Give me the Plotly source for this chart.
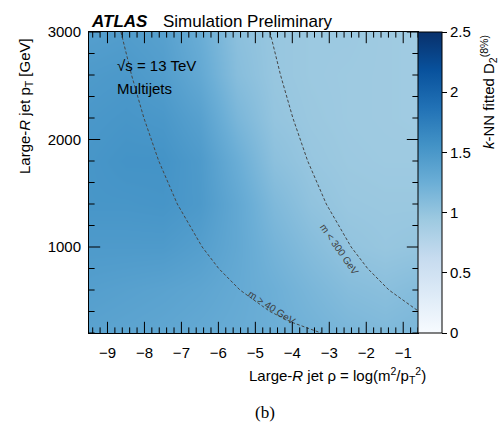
import plotly.graph_objects as go

# ---- data ----
rho_grid = [-9.5, -8.5, -7.5, -6.5, -5.5, -4.5, -3.5, -2.5, -1.5, -0.5]
pt_grid = [200, 600, 1000, 1400, 1800, 2200, 2600, 3000]
d2_values = [
    [1.38, 1.36, 1.34, 1.31, 1.28, 1.25, 1.21, 1.16, 1.13, 1.16],
    [1.42, 1.40, 1.38, 1.35, 1.30, 1.24, 1.16, 1.09, 1.06, 1.10],
    [1.47, 1.47, 1.47, 1.42, 1.32, 1.19, 1.09, 1.01, 0.98, 1.00],
    [1.52, 1.52, 1.53, 1.48, 1.32, 1.13, 1.02, 0.97, 0.96, 0.96],
    [1.52, 1.55, 1.55, 1.47, 1.26, 1.05, 0.98, 0.95, 0.94, 0.94],
    [1.50, 1.52, 1.50, 1.40, 1.16, 1.00, 0.96, 0.94, 0.93, 0.92],
    [1.47, 1.49, 1.44, 1.31, 1.08, 0.98, 0.95, 0.94, 0.93, 0.92],
    [1.42, 1.44, 1.40, 1.26, 1.05, 0.98, 0.95, 0.95, 0.93, 0.92],
]

# constant-mass lines (rho, pT)
m40_pt = [3000, 2600, 2200, 1800, 1400, 1000, 800, 600, 400, 300, 200]
m40_rho = [-8.635, -8.349, -8.015, -7.613, -7.111, -6.438, -5.991, -5.416, -4.605, -4.017, -3.219]
m300_pt = [3000, 2600, 2200, 1800, 1400, 1000, 800, 600, 400]
m300_rho = [-4.605, -4.319, -3.985, -3.584, -3.081, -2.408, -1.962, -1.386, -0.575]

x_major = [-9, -8, -7, -6, -5, -4, -3, -2, -1]
y_major = [1000, 2000, 3000]
cbar_ticks = [0, 0.5, 1, 1.5, 2, 2.5]

X_RANGE = [-9.5, -0.6]
Y_RANGE = [200, 3000]
x_minor = [round(-9.4 + 0.2 * i, 2) for i in range(45)]
x_minor = [v for v in x_minor if abs(v - round(v)) > 1e-6 and v <= X_RANGE[1] + 1e-9]
y_minor = [v for v in range(200, 3001, 200) if v % 1000 != 0]

blues = [
    [0.0, "rgb(247,251,255)"], [0.125, "rgb(222,235,247)"], [0.25, "rgb(198,219,239)"],
    [0.375, "rgb(158,202,225)"], [0.5, "rgb(107,174,214)"], [0.625, "rgb(66,146,198)"],
    [0.75, "rgb(33,113,181)"], [0.875, "rgb(8,81,156)"], [1.0, "rgb(8,48,107)"],
]

FONT = "Liberation Sans, Arial, sans-serif"
L, R, T, B = 89, 418, 32, 333


def px(x):
    return (x - L) / (R - L)


def py(y):
    return (B - y) / (B - T)


fig = go.Figure()
fig.add_trace(go.Heatmap(
    x=rho_grid, y=pt_grid, z=d2_values, zsmooth="best",
    colorscale=blues, zmin=0, zmax=2.5,
    colorbar=dict(
        x=1.0, xanchor="left", xpad=0, thickness=24, len=1, y=0.5, yanchor="middle", ypad=0,
        outlinewidth=1, outlinecolor="black",
        tickvals=cbar_ticks, ticks="outside", ticklen=5, tickcolor="black", tickwidth=1,
        tickfont=dict(size=15, color="black", family=FONT),
    ),
    showscale=True,
))
line_style = dict(color="rgb(70,70,70)", width=1, dash="3px,2px")
fig.add_trace(go.Scatter(x=m40_rho, y=m40_pt, mode="lines", line=line_style, showlegend=False, hoverinfo="skip"))
fig.add_trace(go.Scatter(x=m300_rho, y=m300_pt, mode="lines", line=line_style, showlegend=False, hoverinfo="skip"))


# tick marks drawn on top of the heatmap (clipped to the frame so only the inner half shows)
def tick_trace(xs, ys, symbol, size):
    return go.Scatter(
        x=xs, y=ys, mode="markers", cliponaxis=True, showlegend=False, hoverinfo="skip",
        marker=dict(symbol=symbol, size=size, color="black", line=dict(color="black", width=1)),
    )


for yedge in Y_RANGE:
    fig.add_trace(tick_trace(x_major, [yedge] * len(x_major), "line-ns-open", 16))
    fig.add_trace(tick_trace(x_minor, [yedge] * len(x_minor), "line-ns-open", 8))
for xedge in X_RANGE:
    fig.add_trace(tick_trace([xedge] * len(y_major), y_major, "line-ew-open", 16))
    fig.add_trace(tick_trace([xedge] * len(y_minor), y_minor, "line-ew-open", 8))

fig.update_xaxes(
    range=X_RANGE, tick0=0, dtick=1, ticks="", ticklabelstandoff=6,
    showline=True, linecolor="black", linewidth=1, mirror=True,
    showgrid=False, zeroline=False,
    tickfont=dict(size=15, color="black", family=FONT),
)
fig.update_yaxes(
    range=Y_RANGE, tick0=0, dtick=1000, ticks="", ticklabelstandoff=4,
    showline=True, linecolor="black", linewidth=1, mirror=True,
    showgrid=False, zeroline=False,
    tickfont=dict(size=15, color="black", family=FONT),
)

ann = []


def add(text, x, y, xa="left", ya="middle", size=15, angle=0, color="black", family=FONT, xref="paper", yref="paper"):
    ann.append(dict(text=text, x=x, y=y, xref=xref, yref=yref, xanchor=xa, yanchor=ya,
                    showarrow=False, textangle=angle,
                    font=dict(size=size, color=color, family=family)))


add("<b><i>ATLAS</i></b>", px(89), py(21), size=17)
add("Simulation Preliminary", px(161), py(21), size=17)
add("√s = 13 TeV", px(115), py(65), size=15)
add("Multijets", px(115), py(88), size=15)
add("Large-<i>R</i> jet ρ = log(m<sup>2</sup>/p<sub>T</sub><sup>2</sup>)", px(428), py(375), xa="right", size=15)
add("Large-<i>R</i> jet p<sub>T</sub> [GeV]", px(25), py(36), xa="center", ya="top", size=15, angle=-90)
add("<i>k</i>-NN fitted D<sub>2</sub><sup>(8%)</sup>", px(488), py(33), xa="center", ya="top", size=15, angle=-90)
add("m > 40 GeV", -4.55, 440, xa="center", size=10, angle=33, color="rgb(60,60,60)", xref="x", yref="y")
add("m < 300 GeV", -2.72, 980, xa="center", size=10, angle=55, color="rgb(60,60,60)", xref="x", yref="y")
add("(b)", px(265), py(412), xa="center", size=17, family="Liberation Serif, Times New Roman, serif")

fig.update_layout(
    width=504, height=429,
    margin=dict(l=L, r=504 - R, t=T, b=429 - B, pad=0),
    paper_bgcolor="white", plot_bgcolor="white",
    annotations=ann, showlegend=False,
    font=dict(family=FONT, color="black"),
)

fig.write_html("out.html")
